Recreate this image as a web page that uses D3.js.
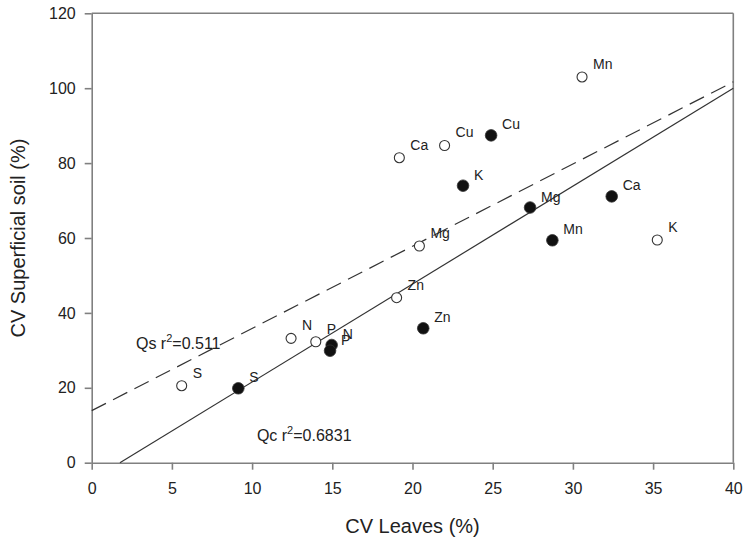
<!DOCTYPE html>
<html>
<head>
<meta charset="utf-8">
<script src="https://cdn.jsdelivr.net/npm/d3@7"></script>
<style>
    body { margin: 0; background: #fff; }
    svg { display: block; font-family: Arial, "Liberation Sans", sans-serif; }
</style>
</head>
<body>
<div id="chart"></div>
<script>
// Qs (open circles) - CV leaves vs CV superficial soil
const qsElements = ['S', 'N', 'P', 'Zn', 'Mg', 'Ca', 'Cu', 'Mn', 'K'];
const qsLeaves = [5.61, 12.43, 13.97, 19.01, 20.43, 19.18, 22.0, 30.57, 35.26];
const qsSoil = [20.56, 33.2, 32.3, 44.06, 57.86, 81.44, 84.7, 103.0, 59.47];

// Qc (filled circles)
const qcElements = ['S', 'N', 'P', 'Zn', 'K', 'Cu', 'Mg', 'Ca', 'Mn'];
const qcLeaves = [9.14, 14.96, 14.86, 20.67, 23.15, 24.9, 27.33, 32.42, 28.72];
const qcSoil = [19.87, 31.43, 29.9, 35.89, 73.97, 87.4, 68.14, 71.11, 59.39];

// regression lines: [intercept, slope]
const qsFit = [13.9, 2.195];
const qcFit = [-4.6, 2.615];
const qsR2 = '0.511';
const qcR2 = '0.6831';

const xTicks = [0, 5, 10, 15, 20, 25, 30, 35, 40];
const yTicks = [0, 20, 40, 60, 80, 100, 120];

const width = 743, height = 538;
const margin = { top: 13.3, right: 9.7, bottom: 75.3, left: 91.7 };
const w = width - margin.left - margin.right;
const h = height - margin.top - margin.bottom;

const svg = d3.select('#chart')
    .append('svg')
    .attr('width', width)
    .attr('height', height);

const g = svg.append('g')
    .attr('transform', `translate(${margin.left},${margin.top})`);

const x = d3.scaleLinear().domain([0, 40]).range([0, w]);
const y = d3.scaleLinear().domain([0, 120]).range([h, 0]);

const axisColor = '#808080';

// frame (top and right)
g.append('line').attr('x1', 0).attr('x2', w).attr('y1', 0).attr('y2', 0)
    .attr('stroke', axisColor).attr('stroke-width', 1.6);
g.append('line').attr('x1', w).attr('x2', w).attr('y1', 0).attr('y2', h)
    .attr('stroke', axisColor).attr('stroke-width', 1.6);

// axes
const xAxis = g.append('g')
    .attr('transform', `translate(0,${h})`)
    .call(d3.axisBottom(x).tickValues(xTicks).tickSize(7).tickPadding(13).tickSizeOuter(0));
const yAxis = g.append('g')
    .call(d3.axisLeft(y).tickValues(yTicks).tickSize(7).tickPadding(9).tickSizeOuter(0));

[xAxis, yAxis].forEach(a => {
    a.select('.domain').attr('stroke', axisColor).attr('stroke-width', 1.6);
    a.selectAll('.tick line').attr('stroke', axisColor).attr('stroke-width', 1.6);
    a.selectAll('.tick text')
        .attr('fill', '#222')
        .style('font-size', '16px')
        .style('font-family', 'Arial, "Liberation Sans", sans-serif');
});

// axis titles
svg.append('text')
    .attr('x', margin.left + w / 2)
    .attr('y', 533)
    .attr('text-anchor', 'middle')
    .attr('fill', '#222')
    .style('font-size', '20px')
    .text('CV Leaves (%)');

svg.append('text')
    .attr('transform', `translate(25,${margin.top + h / 2}) rotate(-90)`)
    .attr('text-anchor', 'middle')
    .attr('fill', '#222')
    .style('font-size', '20px')
    .text('CV Superficial soil (%)');

// regression lines
const qsLine = [0, 40].map(v => [v, qsFit[0] + qsFit[1] * v]);
const qcStart = -qcFit[0] / qcFit[1];
const qcLine = [qcStart, 40].map(v => [v, qcFit[0] + qcFit[1] * v]);
const line = d3.line().x(d => x(d[0])).y(d => y(d[1]));

g.append('path')
    .attr('d', line(qsLine))
    .attr('fill', 'none')
    .attr('stroke', '#333')
    .attr('stroke-width', 1.2)
    .attr('stroke-dasharray', '16,8');

g.append('path')
    .attr('d', line(qcLine))
    .attr('fill', 'none')
    .attr('stroke', '#333')
    .attr('stroke-width', 1.2);

// points
const qsData = qsElements.map((e, i) => ({ name: e, x: qsLeaves[i], y: qsSoil[i] }));
const qcData = qcElements.map((e, i) => ({ name: e, x: qcLeaves[i], y: qcSoil[i] }));

g.append('g').selectAll('circle')
    .data(qsData)
    .enter()
    .append('circle')
    .attr('cx', d => x(d.x))
    .attr('cy', d => y(d.y))
    .attr('r', 5)
    .attr('fill', '#fff')
    .attr('stroke', '#333')
    .attr('stroke-width', 1.1);

g.append('g').selectAll('circle')
    .data(qcData)
    .enter()
    .append('circle')
    .attr('cx', d => x(d.x))
    .attr('cy', d => y(d.y))
    .attr('r', 5.8)
    .attr('fill', '#111')
    .attr('stroke', '#333')
    .attr('stroke-width', 0.8);

// point labels
g.append('g').selectAll('text')
    .data(qsData)
    .enter()
    .append('text')
    .attr('x', d => x(d.x) + 11)
    .attr('y', d => y(d.y) - 8)
    .attr('fill', '#222')
    .style('font-size', '14px')
    .text(d => d.name);

g.append('g').selectAll('text')
    .data(qcData)
    .enter()
    .append('text')
    .attr('x', d => x(d.x) + 11)
    .attr('y', d => y(d.y) - 6)
    .attr('fill', '#222')
    .style('font-size', '14px')
    .text(d => d.name);

// r² annotations
function addR2(label, r2, px, py) {
    const t = g.append('text')
        .attr('x', x(px))
        .attr('y', y(py))
        .attr('fill', '#222')
        .style('font-size', '16px');
    t.append('tspan').text(label + ' r');
    t.append('tspan').attr('dy', -7).style('font-size', '11px').text('2');
    t.append('tspan').attr('dy', 7).text('=' + r2);
}
addR2('Qs', qsR2, 2.76, 30.4);
addR2('Qc', qcR2, 10.3, 5.8);
</script>
</body>
</html>
